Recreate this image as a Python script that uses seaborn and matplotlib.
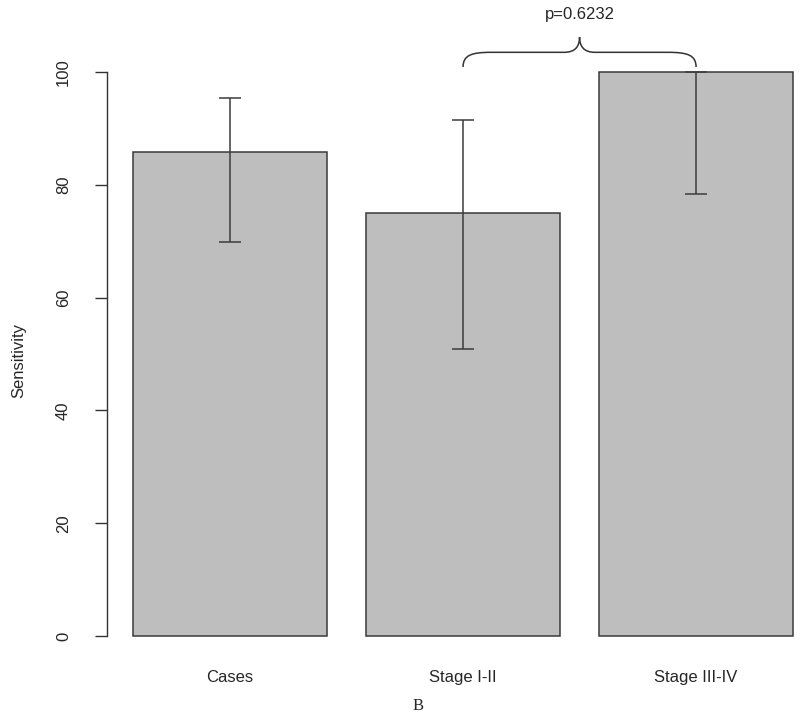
import numpy as np
import pandas as pd
import matplotlib
matplotlib.use('Agg')
import matplotlib.pyplot as plt
import seaborn as sns
from matplotlib.path import Path
from matplotlib.patches import PathPatch

# values
groups = ['Cases', 'Stage I-II', 'Stage III-IV']
sensitivity = [85.8, 75.0, 100.0]
ci_low = [69.9, 50.9, 78.4]
ci_high = [95.4, 91.5, 100.0]
p_label = 'p=0.6232'
panel = 'B'

sns.set_style('white')
plt.rcParams['font.family'] = ['Liberation Sans', 'DejaVu Sans']

df = pd.DataFrame({'group': groups, 'sens': sensitivity})

fig = plt.figure(figsize=(8, 7.19), dpi=100)
ax = fig.add_axes([107 / 800, 60.4 / 719, 693 / 800, 609.1 / 719])

sns.barplot(data=df, x='group', y='sens', color='#bebebe', saturation=1,
            edgecolor='#3a3a3a', linewidth=1.1, width=0.833, errorbar=None, ax=ax)

# confidence intervals
x = np.arange(len(groups))
yerr = [np.array(sensitivity) - np.array(ci_low), np.array(ci_high) - np.array(sensitivity)]
ax.errorbar(x, sensitivity, yerr=yerr, fmt='none', ecolor='#3c3c3c',
            elinewidth=1.1, capsize=8, capthick=1.1)

ax.set_xlim(-0.528, 2.446)
ax.set_ylim(-4, 104)

for s in ['top', 'right', 'bottom']:
    ax.spines[s].set_visible(False)
ax.spines['left'].set_bounds(0, 100)
ax.spines['left'].set_color('#333333')
ax.spines['left'].set_linewidth(1)

ax.set_yticks([0, 20, 40, 60, 80, 100])
ax.tick_params(axis='y', left=True, length=9, width=1, color='#333333', pad=17,
               labelsize=12, labelrotation=90)
for lab in ax.get_yticklabels():
    lab.set_va('center')
ax.tick_params(axis='x', length=0, pad=8, labelsize=12)
ax.set_xlabel('')
ax.set_ylabel('')
fig.text(19 / 800, 1 - 360 / 719, 'Sensitivity', rotation=90, ha='center',
         va='center', fontsize=12)

# curly brace between stage groups
x1, x2 = 1.0, 2.0
y0 = max(ci_high) + 0.9
h = 2.6
tip = 2.7
xm = (x1 + x2) / 2
dx = 0.12
verts = [
    (x1, y0), (x1, y0 + h * 0.8), (x1 + dx * 0.3, y0 + h), (x1 + dx, y0 + h),
    (xm - dx * 0.55, y0 + h),
    (xm - dx * 0.15, y0 + h), (xm, y0 + h + tip * 0.4), (xm, y0 + h + tip),
    (xm, y0 + h + tip * 0.4), (xm + dx * 0.15, y0 + h), (xm + dx * 0.55, y0 + h),
    (x2 - dx, y0 + h),
    (x2 - dx * 0.3, y0 + h), (x2, y0 + h * 0.8), (x2, y0),
]
codes = [Path.MOVETO, Path.CURVE4, Path.CURVE4, Path.CURVE4,
         Path.LINETO,
         Path.CURVE4, Path.CURVE4, Path.CURVE4,
         Path.CURVE4, Path.CURVE4, Path.CURVE4,
         Path.LINETO,
         Path.CURVE4, Path.CURVE4, Path.CURVE4]
ax.add_patch(PathPatch(Path(verts, codes), facecolor='none', edgecolor='#333333',
                       linewidth=1.1, clip_on=False))
ax.text(xm, y0 + h + tip + 4.0, p_label, ha='center', va='center', fontsize=12,
        clip_on=False)

fig.text(418 / 800, 1 - 706 / 719, panel, ha='center', va='center', fontsize=12,
         family=['Liberation Serif', 'DejaVu Serif'])

fig.savefig('out.png', dpi=100)
